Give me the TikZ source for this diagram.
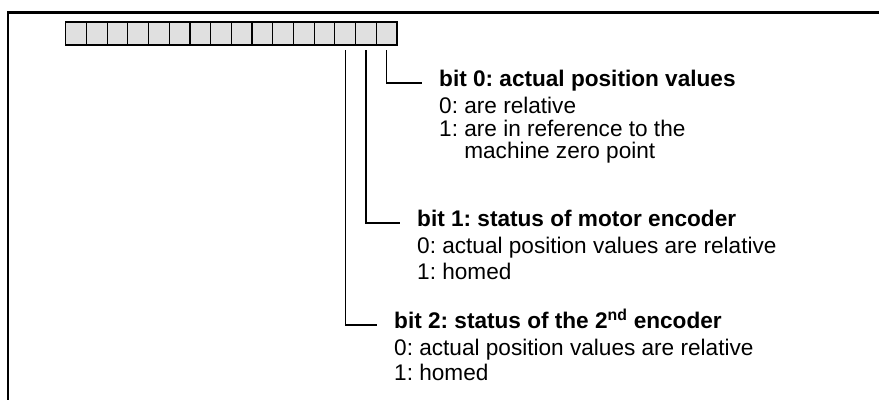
\documentclass[tikz,border=0pt]{standalone}
\usepackage{fontspec}
\setmainfont{Liberation Sans}
\frenchspacing
\begin{document}
\begin{tikzpicture}[x=1pt, y=1pt,
        cell/.style={draw, line width=1.2pt, fill=black!12, minimum width=20.7pt, minimum height=23pt, inner sep=0pt, outer sep=0pt},
        title/.style={anchor=base west, inner sep=0pt, font=\fontsize{22.6}{24}\selectfont\bfseries},
        body/.style={anchor=base west, inner sep=0pt, font=\fontsize{22.6}{24}\selectfont}]
    \useasboundingbox (0,0) rectangle (879,-400);

    % frame
    \draw[line width=3pt] (7,-12) -- (879,-12);
    \draw[line width=2pt] (8,-12) -- (8,-400);

    % register, bit 0 on the right
    \foreach \i in {0,...,15}
        \node[cell] (b\i) at ({386.6-\i*20.7},-33.5) {};

    % bit 0
    \node[title] (t0) at (439,-86) {bit 0: actual position values};
    \node[body] (t0a) at (439,-113) {0: are relative};
    \node[body] (t0b) at (439,-136) {1: are in reference to the};
    \node[body] (t0c) at (439,-158) {\phantom{1: }machine zero point};
    \coordinate (e0) at (422,-83);
    \draw[line width=1.2pt] (b0.south) ++(0,-5) |- (e0);

    % bit 1
    \node[title] (t1) at (417,-226) {bit 1: status of motor encoder};
    \node[body] (t1a) at (417,-253) {0: actual position values are relative};
    \node[body] (t1b) at (417,-279) {1: homed};
    \coordinate (e1) at (400,-223);
    \draw[line width=1.2pt] (b1.south) ++(0,-5) |- (e1);

    % bit 2
    \node[title] (t2) at (394,-328) {bit 2: status of the 2\textsuperscript{nd} encoder};
    \node[body] (t2a) at (394,-355) {0: actual position values are relative};
    \node[body] (t2b) at (394,-380) {1: homed};
    \coordinate (e2) at (377,-325);
    \draw[line width=1.2pt] (b2.south) ++(0,-5) |- (e2);
\end{tikzpicture}
\end{document}
